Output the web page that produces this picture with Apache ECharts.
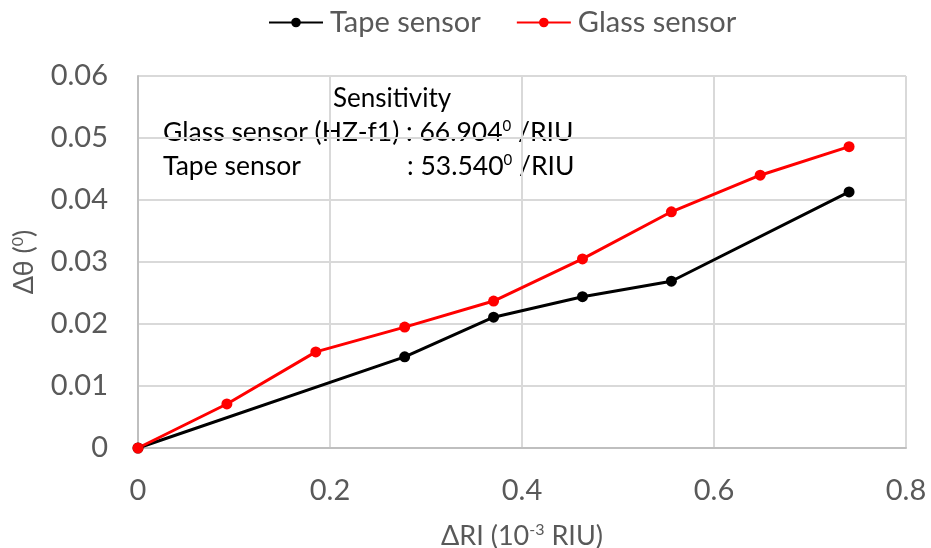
<!DOCTYPE html>
<html>
<head>
<meta charset="utf-8">
<script src="https://cdn.jsdelivr.net/npm/echarts@6/dist/echarts.min.js"></script>
<style>html,body{margin:0;padding:0;background:#fff}#c{width:931px;height:548px}</style>
</head>
<body>
<div id="c"></div>
<script>
const tapeX = [0, 0.2778, 0.3704, 0.4630, 0.5556, 0.7407];
const tapeY = [0, 0.0147, 0.0211, 0.0244, 0.0269, 0.0413];
const glassX = [0, 0.0926, 0.1852, 0.2778, 0.3704, 0.4630, 0.5556, 0.6481, 0.7407];
const glassY = [0, 0.0071, 0.0155, 0.0195, 0.0237, 0.0305, 0.0381, 0.0440, 0.0486];
const xTicks = [0, 0.2, 0.4, 0.6, 0.8];
const yTicks = [0, 0.01, 0.02, 0.03, 0.04, 0.05, 0.06];
const seriesNames = ['Tape sensor', 'Glass sensor'];

const FONT = 'Lato, "Open Sans", sans-serif';
const chart = echarts.init(document.getElementById('c'));
const zip = (xs, ys) => xs.map((x, i) => [x, ys[i]]);
const ann = { a: { fontSize: 26.5, fill: '#000', fontFamily: FONT }, s: { fontSize: 15, fill: '#000', fontFamily: FONT, padding: [0,0,12,0] } };
chart.setOption({
  animation: false,
  textStyle: { fontFamily: FONT },
  legend: {
    top: 3, left: 263, itemWidth: 54, itemHeight: 12, itemGap: 35,
    textStyle: { fontSize: 29, color: '#595959', fontFamily: FONT, padding: [0,0,0,2] },
    data: seriesNames
  },
  grid: { left: 138, right: 25, top: 76, bottom: 100, outerBoundsMode: 'none', containLabel: false },
  xAxis: {
    type: 'value', min: 0, max: 0.8, interval: 0.2,
    axisLine: { show: true, lineStyle: { color: '#bfbfbf', width: 2 } },
    axisTick: { show: false },
    splitLine: { show: true, lineStyle: { color: '#d9d9d9', width: 2 } },
    axisLabel: { fontSize: 29, color: '#595959', margin: 28, fontFamily: FONT,
      formatter: v => xTicks.includes(+v.toFixed(2)) ? String(+v.toFixed(2)) : '' },
    name: '{a|ΔRI (10}{s|-3}{a| RIU)}', nameLocation: 'middle', nameGap: 74, nameMoveOverlap: false,
    nameTextStyle: { rich: {
      a: { fontSize: 27, color: '#595959', fontFamily: FONT },
      s: { fontSize: 16, color: '#595959', fontFamily: FONT, verticalAlign: 'top', padding: [0,0,12,0] }
    } }
  },
  yAxis: {
    type: 'value', min: 0, max: 0.06, interval: 0.01,
    axisLine: { show: true, lineStyle: { color: '#bfbfbf', width: 2 } },
    axisTick: { show: false },
    splitLine: { show: true, lineStyle: { color: '#d9d9d9', width: 2 } },
    axisLabel: { fontSize: 29, color: '#595959', margin: 30, fontFamily: FONT,
      formatter: v => { const r = +v.toFixed(2); return yTicks.includes(r) ? String(r) : ''; } },
    name: '{a|Δθ (}{s|0}{a|)}', nameLocation: 'middle', nameGap: 100, nameRotate: 90, nameMoveOverlap: false,
    nameTextStyle: { rich: {
      a: { fontSize: 27, color: '#595959', fontFamily: FONT },
      s: { fontSize: 16, color: '#595959', fontFamily: FONT, padding: [0,0,12,0] }
    } }
  },
  graphic: [
    { type: 'text', left: 333, top: 86, style: { text: 'Sensitivity', fontSize: 26, fill: '#000', fontFamily: FONT } },
    { type: 'text', left: 163, top: 119, style: { text: '{a|Glass sensor (HZ-f1) : 66.904}{s|0}{a| /RIU}', rich: ann } },
    { type: 'text', left: 163, top: 153, style: { text: 'Tape sensor', fontSize: 26.5, fill: '#000', fontFamily: FONT } },
    { type: 'text', left: 407, top: 153, style: { text: '{a|: 53.540}{s|0}{a| /RIU}', rich: ann } }
  ],
  series: [
    { name: seriesNames[0], type: 'line', data: zip(tapeX, tapeY), symbol: 'circle', symbolSize: 11,
      itemStyle: { color: '#000' }, lineStyle: { color: '#000', width: 3 } },
    { name: seriesNames[1], type: 'line', data: zip(glassX, glassY), symbol: 'circle', symbolSize: 11,
      itemStyle: { color: '#ff0000' }, lineStyle: { color: '#ff0000', width: 3 } }
  ]
});
</script>
</body>
</html>
